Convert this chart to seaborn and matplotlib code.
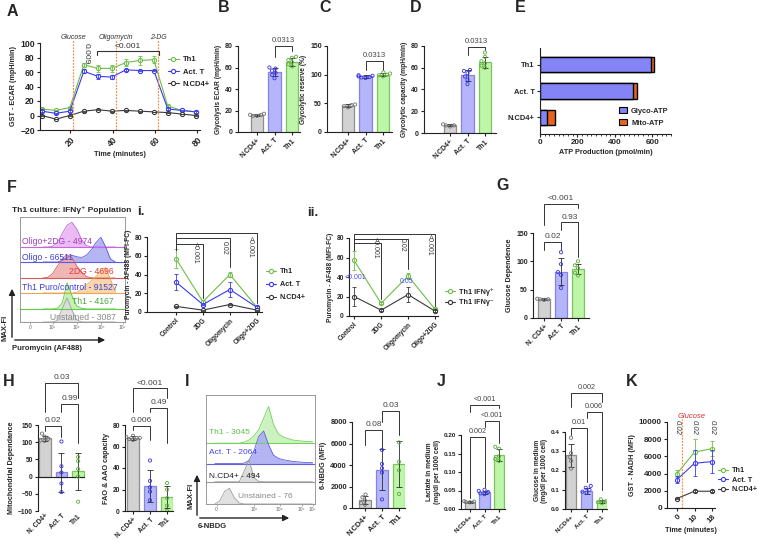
import numpy as np
import pandas as pd
import seaborn as sns
import matplotlib.pyplot as plt
from matplotlib.lines import Line2D
from matplotlib.patches import Patch
from matplotlib.ticker import MultipleLocator, FormatStrFormatter

W, H = 762, 545

# groups and colours shared by the bar panels
groups = ['N.CD4+', 'Act. T', 'Th1']
groups_sp = ['N. CD4+', 'Act. T', 'Th1']
bar_fill = ['#d2d2d2', '#b5b5fc', '#bdf6a8']
bar_edge = ['#8e8e8e', '#8585e0', '#7cc460']
pt_color = ['#707070', '#3434e6', '#5cab3a']
c_th1, c_act, c_cd4 = '#6dbf45', '#3b3bf2', '#3a3a3a'

# A: GST - ECAR trace
a_time = [6.6, 13.2, 19.8, 26.4, 33.0, 39.6, 46.2, 52.8, 59.4, 66.0, 72.6, 79.2]
a_th1 = [9, 7, 11, 70, 65, 65, 73, 76, 77, 13, 7, 5]
a_th1_sd = [1, 1, 1, 3, 5, 5, 5, 6, 5, 2, 1, 1]
a_act = [6, 3, 6, 61, 54, 53, 63, 62, 62, 9, 7, 5]
a_act_sd = [1, 1, 1, 3, 3, 3, 1, 1, 1, 1, 1, 1]
a_cd4 = [0, -5, 0, 6, 8, 6, 7, 6, 5, 4, 2, 0]
a_cd4_sd = [0.5] * 12
a_inject = [21.5, 41.5, 61.5]
a_inject_lbl = ['Glucose', 'Oligomycin', '2-DG']

# B, C, D: glycolysis parameters
b_mean, b_sd = [16, 56, 65], [1, 4, 4]
b_pts = [[15, 16, 17, 16, 15], [50, 53, 55, 57, 59, 60], [61, 63, 65, 67, 69, 70]]
c_mean, c_sd = [46, 97, 100], [3, 2, 3]
c_pts = [[43, 45, 47, 48], [94, 96, 97, 98, 99, 95], [97, 99, 100, 102, 104]]
d_mean, d_sd = [7, 53, 65], [1, 5, 5]
d_pts = [[6, 7, 8, 7], [45, 49, 52, 55, 57, 58], [60, 62, 64, 66, 70, 74]]

# E: ATP production
e_groups = ['Th1', 'Act. T', 'N.CD4+']
e_glyco = [595, 495, 40]
e_mito = [15, 25, 42]

# F: puromycin histograms (x in log decades, heights in lane units)
f_grid = [2.6, 2.8, 3.0, 3.2, 3.4, 3.6, 3.8, 4.0, 4.2, 4.4, 4.6, 4.8, 5.0, 5.2, 5.4, 5.6]
f_names = ['Oligo+2DG - 4974', 'Oligo - 66511', '2DG - 4696',
           'Th1 Puro/control - 91527', 'Th1 - 4167', 'Unstained - 3087']
f_curves = [
    [0, 0, 0.05, 0.3, 0.9, 1.45, 1.65, 1.2, 0.5, 0.1, 0, 0, 0, 0, 0, 0],
    [0, 0, 0, 0, 0.1, 0.3, 0.45, 0.35, 0.3, 0.45, 0.8, 1.3, 1.65, 1.0, 0.2, 0],
    [0, 0.05, 0.3, 0.8, 1.3, 1.55, 1.35, 0.8, 0.4, 0.1, 0.02, 0, 0, 0, 0, 0],
    [0, 0, 0, 0, 0, 0, 0, 0.05, 0.25, 0.55, 0.8, 1.1, 1.5, 1.7, 0.9, 0.1],
    [0, 0, 0, 0.05, 0.4, 1.75, 0.9, 0.2, 0.05, 0, 0, 0, 0, 0, 0, 0],
    [0, 0, 0, 0.1, 0.9, 1.6, 0.8, 0.15, 0, 0, 0, 0, 0, 0, 0, 0],
]
f_ticks = ['0', '10³', '10⁴', '10⁵', '10⁶']

# i / ii: puromycin MFI under inhibitors
inh_cats = ['Control', '2DG', 'Oligomycin', 'Oligo+2DG']
i_th1, i_th1_sd = [57, 11, 40, 5], [10, 1.5, 3, 1]
i_act, i_act_sd = [32, 8, 24, 5], [9, 1, 8, 1]
i_cd4, i_cd4_sd = [6, 2, 8, 2], [0.5, 0.5, 0.5, 0.5]
ii_pos, ii_pos_sd = [57, 13, 41, 7], [10, 1, 3, 1]
ii_neg, ii_neg_sd = [20, 6, 22, 5], [10, 1, 8, 1]

# G: glucose dependence
g_mean, g_sd = [33, 82, 86], [1.5, 24, 9]
g_pts = [[32, 33, 34, 33], [116, 95, 81, 76, 53], [100, 93, 88, 80, 75]]

# H: mitochondrial dependence, FAO & AAO capacity
h1_mean, h1_sd = [111, 12, 15], [8, 57, 54]
h1_pts = [[125, 116, 110, 105, 104], [102, 30, 12, -20, -45], [57, 45, 22, 0, -73]]
h2_mean, h2_sd = [68, 23, 13], [1.5, 15, 10]
h2_pts = [[66, 67, 68, 68, 69, 70], [47, 28, 22, 18, 10], [26, 20, 12, 5, 0]]

# I: 6-NBDG uptake
n_grid = [1.4, 1.6, 1.8, 2.0, 2.2, 2.4, 2.6, 2.8, 3.0, 3.2, 3.4, 3.6, 3.8,
          4.0, 4.2, 4.4, 4.6, 4.8, 5.0, 5.2, 5.4]
n_names = ['Th1 - 3045', 'Act. T - 2064', 'N.CD4+ - 494', 'Unstained - 76']
n_curves = [
    [0, 0, 0, 0, 0, 0, 0.05, 0.15, 0.35, 0.65, 1.2, 1.75, 0.9, 0.45, 0.3, 0.22, 0.15, 0.12, 0.1, 0.08, 0.07],
    [0, 0, 0, 0, 0, 0, 0.02, 0.15, 0.6, 1.3, 1.55, 0.9, 0.4, 0.25, 0.18, 0.14, 0.1, 0.08, 0.06, 0.05, 0.04],
    [0, 0, 0, 0, 0, 0, 0.5, 1.05, 0.2, 0.02, 0, 0, 0, 0, 0, 0, 0, 0, 0, 0, 0],
    [0, 0.15, 0.6, 0.75, 0.3, 0.05, 0, 0, 0, 0, 0, 0, 0, 0, 0, 0, 0, 0, 0, 0, 0],
]
nb_mean, nb_sd = [750, 3550, 4100], [350, 1900, 2100]
nb_pts = [[1250, 1000, 700, 450, 300], [5400, 4100, 3700, 3300, 800], [6100, 4300, 3500, 1300]]

# J: lactate / glucose in medium
lac_mean, lac_sd = [0.019, 0.045, 0.145], [0.002, 0.005, 0.016]
lac_pts = [[0.018, 0.019, 0.02, 0.021], [0.052, 0.049, 0.046, 0.042, 0.04], [0.168, 0.163, 0.142, 0.135, 0.13]]
glc_mean, glc_sd = [0.28, 0.095, 0.04], [0.06, 0.015, 0.008]
glc_pts = [[0.37, 0.29, 0.27, 0.25, 0.21], [0.12, 0.11, 0.1, 0.09, 0.085], [0.05, 0.04, 0.035, 0.03]]

# K: NADH trace
k_cats = ['0', '10', '18']
k_th1, k_th1_sd = [4000, 6500, 6900], [400, 1500, 900]
k_act, k_act_sd = [3300, 5200, 5400], [400, 1500, 1350]
k_cd4, k_cd4_sd = [1100, 1950, 1950], [100, 100, 100]

sns.set_theme(style='ticks')
plt.rcParams['font.family'] = ['Liberation Sans', 'DejaVu Sans']
plt.rcParams['font.weight'] = 'bold'
plt.rcParams['axes.labelweight'] = 'bold'
plt.rcParams['axes.labelsize'] = 5
plt.rcParams['axes.labelpad'] = 2

fig = plt.figure(figsize=(W / 100, H / 100), dpi=100)
ov = fig.add_axes([0, 0, 1, 1])
ov.set_xlim(0, W)
ov.set_ylim(H, 0)
ov.axis('off')
ov.set_zorder(10)


def px_axes(l, t, r, b):
    return fig.add_axes([l / W, 1 - b / H, (r - l) / W, (b - t) / H])


def prism(ax, fs):
    sns.despine(ax=ax)
    ax.tick_params(axis='both', labelsize=fs, width=0.8, length=2.5, pad=1.2, color='#222222')
    for s in ax.spines.values():
        s.set_linewidth(0.8)
        s.set_color('#222222')
    ax.set_xlabel('')
    ax.set_ylabel('')


def cat_xticks(ax, labels, fs):
    ax.set_xticks(range(len(labels)))
    ax.set_xticklabels(labels, rotation=45, ha='right', rotation_mode='anchor',
                       fontsize=fs, fontweight='bold')


def bar_panel(ax, means, sds, pts, labels, fs):
    df = pd.DataFrame({'grp': labels, 'val': means})
    sns.barplot(data=df, x='grp', y='val', hue='grp', order=labels, hue_order=labels,
                palette=bar_fill, saturation=1, width=0.7, errorbar=None,
                linewidth=0.9, legend=False, ax=ax, zorder=2)
    for p, ec in zip(ax.patches, bar_edge):
        p.set_edgecolor(ec)
    ax.errorbar(range(3), means, yerr=sds, fmt='none', ecolor='#2a2a2a',
                elinewidth=0.6, capsize=2, capthick=0.6, zorder=4)
    long = pd.DataFrame([(g, v) for g, vs in zip(labels, pts) for v in vs], columns=['grp', 'val'])
    n0 = len(ax.collections)
    sns.swarmplot(data=long, x='grp', y='val', hue='grp', order=labels, hue_order=labels,
                  palette=pt_color, size=2.3, legend=False, ax=ax, zorder=5)
    for c in ax.collections[n0:]:
        c.set_edgecolors(c.get_facecolors())
        c.set_facecolors('none')
        c.set_linewidths(0.6)
    prism(ax, fs)
    cat_xticks(ax, labels, fs)


def bracket(ax, x1, x2, y, d1, d2, txt, fs=5.5):
    ax.plot([x1, x1, x2, x2], [d1, y, y, d2], color='#333333', lw=0.7, clip_on=False)
    ax.annotate(txt, ((x1 + x2) / 2, y), xytext=(0, 1.2), textcoords='offset points',
                ha='center', va='bottom', fontsize=fs, fontweight='normal',
                color='#444444', annotation_clip=False)


def line_series(ax, x, y, sd, color):
    sns.lineplot(x=x, y=y, ax=ax, color=color, lw=0.8, marker='o', ms=3,
                 mfc='white', mec=color, mew=0.8, legend=False)
    ax.errorbar(x, y, yerr=sd, fmt='none', ecolor=color, elinewidth=0.6,
                capsize=1.5, capthick=0.6)


def line_legend(ax, labels, colors, x, y, fs, spacing):
    hs = [Line2D([], [], color=c, lw=0.8, marker='o', ms=3, mfc='white', mec=c, mew=0.8)
          for c in colors]
    ax.legend(hs, labels, loc='upper left', bbox_to_anchor=(x / W, 1 - y / H),
              bbox_transform=fig.transFigure, frameon=False, fontsize=fs,
              handlelength=1.4, handletextpad=0.5, labelspacing=spacing, borderpad=0,
              borderaxespad=0)


def hist_panel(ax, grid, curves, bases, fills, edges, xlim, ylim, ticks, tlabels):
    for ys, b, fc, ec in zip(curves, bases, fills, edges):
        top = np.array(ys) + b
        ax.axhline(b, color=ec, lw=0.8)
        ax.fill_between(grid, b, top, color=fc, alpha=0.85, lw=0)
        sns.lineplot(x=grid, y=top, ax=ax, color=ec, lw=0.6)
    ax.set_xlim(*xlim)
    ax.set_ylim(*ylim)
    ax.set_yticks([])
    ax.set_xticks(ticks)
    ax.set_xticklabels(tlabels, fontsize=3.5, fontweight='normal', color='#666666')
    ax.tick_params(axis='x', length=1.5, width=0.5, pad=1, color='#888888')
    for s in ax.spines.values():
        s.set_color('#999999')
        s.set_linewidth(0.7)
    ax.set_facecolor('none')


# ---------------- A
axA = px_axes(40, 43, 200, 130)
for y, sd, c in [(a_th1, a_th1_sd, c_th1), (a_act, a_act_sd, c_act), (a_cd4, a_cd4_sd, c_cd4)]:
    line_series(axA, a_time, y, sd, c)
for t, lbl in zip(a_inject, a_inject_lbl):
    axA.plot([t, t], [-20, 104], color='#f09050', ls=(0, (1.5, 1)), lw=0.9, clip_on=False)
    axA.text(t, 108, lbl, ha='center', va='center', fontsize=5, style='italic',
             fontweight='normal', color='#333333')
axA.plot([32.5, 32.5, 61.8, 61.8], [84, 89.5, 89.5, 84], color='#333333', lw=0.8, clip_on=False)
axA.text(47.2, 91, '<0.001', ha='center', va='bottom', fontsize=6, fontweight='normal', color='#333333')
axA.text(27.4, 86, '0.009', ha='center', va='center', rotation=270, fontsize=6,
         fontweight='normal', color='#333333')
axA.set_xlim(5.7, 81.2)
axA.set_ylim(-20, 100)
axA.set_yticks(range(-20, 101, 20))
prism(axA, 6.2)
axA.set_xticks([20, 40, 60, 80])
axA.set_xticklabels(['20', '40', '60', '80'], rotation=45, ha='right', rotation_mode='anchor')
axA.set_xlabel('Time (minutes)', fontsize=5.2)
axA.set_ylabel('GST - ECAR (mpH/min)', fontsize=5.2)
line_legend(axA, ['Th1', 'Act. T', 'N.CD4+'], [c_th1, c_act, c_cd4], 168, 56, 5.5, 0.65)

# ---------------- B, C, D
axB = px_axes(238, 46, 300, 132)
bar_panel(axB, b_mean, b_sd, b_pts, groups, 5.0)
axB.set_xlim(-1.09, 2.46)
axB.set_ylim(0, 80)
axB.set_yticks(range(0, 81, 20))
axB.set_ylabel('Glycolysis ECAR (mpH/min)', fontsize=4.8)
bracket(axB, 1, 2, 80, 70, 75, '0.0313')

axC = px_axes(327, 46, 392, 132)
bar_panel(axC, c_mean, c_sd, c_pts, groups, 5.0)
axC.set_xlim(-1.2, 2.51)
axC.set_ylim(0, 150)
axC.set_yticks([0, 50, 100, 150])
axC.set_ylabel('Glycolytic reserve (%)', fontsize=4.8)
bracket(axC, 1, 2, 124, 108, 108, '0.0313')

axD = px_axes(424, 46, 496, 133)
bar_panel(axD, d_mean, d_sd, d_pts, groups, 5.0)
axD.set_xlim(-1.49, 2.63)
axD.set_ylim(0, 80)
axD.set_yticks(range(0, 81, 20))
axD.set_ylabel('Glycolytic capacity (mpH/min)', fontsize=4.8)
bracket(axD, 1, 2, 79, 72, 76, '0.0313')

# ---------------- E
axE = px_axes(540, 48, 671, 134)
e_total = [g + m for g, m in zip(e_glyco, e_mito)]
sns.barplot(x=e_total, y=e_groups, orient='h', color='#e8641e', saturation=1, width=0.58,
            edgecolor='black', linewidth=1.0, errorbar=None, ax=axE)
sns.barplot(x=e_glyco, y=e_groups, orient='h', color='#8484f6', saturation=1, width=0.58,
            edgecolor='black', linewidth=1.0, errorbar=None, ax=axE)
prism(axE, 5.8)
axE.set_xlim(0, 700)
axE.set_ylim(2.65, -0.65)
axE.set_xticks([0, 200, 400, 600])
axE.xaxis.set_minor_locator(MultipleLocator(25))
axE.tick_params(axis='x', which='minor', length=1.5, width=0.6)
axE.tick_params(axis='y', labelsize=5.4)
axE.set_xlabel('ATP Production (pmol/min)', fontsize=5.2)
axE.legend([Patch(facecolor='#8484f6', edgecolor='black', lw=0.8),
            Patch(facecolor='#e8641e', edgecolor='black', lw=0.8)],
           ['Glyco-ATP', 'Mito-ATP'], loc='upper left', bbox_to_anchor=(619 / W, 1 - 107 / H),
           bbox_transform=fig.transFigure, frameon=False, fontsize=5.4, handlelength=1.1,
           handleheight=0.9, handletextpad=0.5, labelspacing=0.55, borderpad=0, borderaxespad=0)

# ---------------- F
axF = px_axes(20, 217, 125, 322)
hist_panel(axF, f_grid, f_curves, [5.0, 4.0, 2.93, 1.93, 0.87, 0.0],
           ['#eab0f2', '#a8a8f2', '#eeaaaa', '#f7cf9c', '#b8f2a8', '#dcdcdc'],
           ['#c468e0', '#5a5ae6', '#d85a5a', '#e8a850', '#62cc48', '#a0a0a0'],
           (1.65, 6.0), (0, 7), [2.06, 3, 4, 5, 5.9], f_ticks)
f_txt_col = ['#9b3fbe', '#3f3fd6', '#e23a3a', '#3f3fd6', '#46a83a', '#8a8a8a']
f_txt_pos = [(22, 241), (22, 257), (69, 272), (22, 287), (72, 302), (50, 318)]
for name, col, (x, y) in zip(f_names, f_txt_col, f_txt_pos):
    ov.text(x, y, name, fontsize=6.2, fontweight='normal', color=col, ha='left', va='center')
ov.text(12, 210, 'Th1 culture: IFNγ⁺ Population', fontsize=6, ha='left', va='center')
ov.annotate('', xy=(12, 286), xytext=(12, 340),
            arrowprops=dict(arrowstyle='-|>', color='#222222', lw=1.0, mutation_scale=9))
ov.annotate('', xy=(108, 340), xytext=(12, 340),
            arrowprops=dict(arrowstyle='-|>', color='#222222', lw=1.0, mutation_scale=9))
ov.text(5, 328, 'MAX-FI', rotation=90, fontsize=5.5, ha='center', va='center')
ov.text(12, 348, 'Puromycin (AF488)', fontsize=5.5, ha='left', va='center')

# ---------------- i
axi = px_axes(147, 237, 262, 312)
for y, sd, c in [(i_th1, i_th1_sd, c_th1), (i_act, i_act_sd, c_act), (i_cd4, i_cd4_sd, c_cd4)]:
    line_series(axi, [0, 1, 2, 3], y, sd, c)
prism(axi, 4.8)
axi.set_xlim(-1.07, 3.19)
axi.set_ylim(0, 80)
axi.set_yticks(range(0, 81, 20))
cat_xticks(axi, inh_cats, 4.8)
axi.set_ylabel('Puromycin - AF488 (MFI-FC)', fontsize=4.8)
for xk, yk, dk, txt, tx, ty in [(3, 84, 10, '<0.001', 2.74, 69), (2, 79, 48, '0.02', 1.78, 68),
                                 (1, 73, 15, '<0.001', 0.7, 63)]:
    axi.plot([0, 0, xk, xk], [66, yk, yk, dk], color='#333333', lw=0.7, clip_on=False)
    axi.text(tx, ty, txt, rotation=270, ha='center', va='center', fontsize=5,
             fontweight='normal', color='#333333')
line_legend(axi, ['Th1', 'Act. T', 'N.CD4+'], [c_th1, c_act, c_cd4], 266, 268, 5.2, 0.85)

# ---------------- ii
axii = px_axes(349, 238, 438, 316)
for y, sd, c in [(ii_pos, ii_pos_sd, c_th1), (ii_neg, ii_neg_sd, c_cd4)]:
    line_series(axii, [0, 1, 2, 3], y, sd, c)
prism(axii, 4.8)
axii.set_xlim(-0.19, 3.11)
axii.set_ylim(0, 80)
axii.set_yticks(range(0, 81, 20))
cat_xticks(axii, inh_cats, 4.8)
axii.set_ylabel('Puromycin - AF488 (MFI-FC)', fontsize=4.8)
for xk, yk, dk, txt, tx, ty in [(3, 84, 10, '<0.001', 2.78, 73), (2, 79, 48, '0.02', 1.78, 73),
                                 (1, 75, 17, '<0.001', 0.78, 70)]:
    axii.plot([0, 0, xk, xk], [68, yk, yk, dk], color='#333333', lw=0.7, clip_on=False)
    axii.text(tx, ty, txt, rotation=270, ha='center', va='center', fontsize=5,
              fontweight='normal', color='#333333')
axii.text(0.05, 39, '<0.001', ha='center', va='center', fontsize=5, fontweight='normal', color='#5050f0')
axii.text(1.96, 35, '0.05', ha='center', va='center', fontsize=5, fontweight='normal', color='#5050f0')
line_legend(axii, ['Th1 IFNγ⁺', 'Th1 IFNγ⁻'], [c_th1, c_cd4], 445, 288, 5.2, 0.45)

# ---------------- G
axG = px_axes(533, 233, 589, 318)
bar_panel(axG, g_mean, g_sd, g_pts, groups_sp, 5.0)
axG.set_xlim(-0.65, 2.65)
axG.set_ylim(0, 150)
axG.set_yticks([0, 50, 100, 150])
axG.set_ylabel('Glucose Dependence', fontsize=5.2)
bracket(axG, 0, 1, 134, 120, 120, '0.02', 6)
bracket(axG, 1, 2, 169, 155, 108, '0.93', 6)
bracket(axG, 0, 2, 201, 164, 194, '<0.001', 6)

# ---------------- H
axH1 = px_axes(38, 425, 85, 511)
bar_panel(axH1, h1_mean, h1_sd, h1_pts, groups_sp, 4.8)
axH1.set_xlim(-0.4, 2.41)
axH1.set_ylim(-100, 150)
axH1.set_yticks(range(-100, 151, 50))
axH1.spines['bottom'].set_visible(False)
axH1.axhline(0, color='#222222', lw=0.8)
axH1.tick_params(axis='x', length=0)
axH1.set_ylabel('Mitochondrial Dependance', fontsize=5.2)
bracket(axH1, 0, 1, 147, 133, 115, '0.02', 6)
bracket(axH1, 1, 2, 211, 188, 98, '0.99', 6)
bracket(axH1, 0, 2, 273, 188, 229, '0.03', 6)

axH2 = px_axes(125, 425, 173, 511)
bar_panel(axH2, h2_mean, h2_sd, h2_pts, groups_sp, 4.8)
axH2.set_xlim(-0.47, 2.35)
axH2.set_ylim(0, 80)
axH2.set_yticks(range(0, 81, 20))
axH2.set_ylabel('FAO & AAO capacity', fontsize=5.2)
bracket(axH2, 0, 1, 79, 75, 66, '0.006', 6)
bracket(axH2, 1, 2, 96, 92, 63, '0.49', 6)
bracket(axH2, 0, 2, 114, 92, 105, '<0.001', 6)

# ---------------- I
axIh = px_axes(206, 395, 315, 504)
hist_panel(axIh, n_grid, n_curves, [2.9, 1.93, 1.06, 0.0],
           ['#c4f2b4', '#a8a8f2', '#d8d8d8', '#dcdcdc'],
           ['#78d060', '#6060e0', '#9a9a9a', '#a0a0a0'],
           (1.04, 5.5), (0, 5.2), [1.47, 3, 4.05, 4.95, 5.4], ['0', '10³', '10⁴', '10⁵', '10⁶'])
n_txt_col = ['#5cc048', '#4848e0', '#222222', '#8a8a8a']
n_txt_pos = [(209, 433), (209, 453), (209, 477), (238, 497)]
for name, col, (x, y) in zip(n_names, n_txt_col, n_txt_pos):
    ov.text(x, y, name, fontsize=6, fontweight='normal', color=col, ha='left', va='center')
ov.annotate('', xy=(197, 472), xytext=(197, 518),
            arrowprops=dict(arrowstyle='-|>', color='#222222', lw=1.0, mutation_scale=9))
ov.annotate('', xy=(292, 518), xytext=(197, 518),
            arrowprops=dict(arrowstyle='-|>', color='#222222', lw=1.0, mutation_scale=9))
ov.text(191, 496, 'MAX-FI', rotation=90, fontsize=5.5, ha='center', va='center')
ov.text(198, 527, '6-NBDG', fontsize=5.5, ha='left', va='center')

axIb = px_axes(352, 422, 405, 508)
bar_panel(axIb, nb_mean, nb_sd, nb_pts, groups, 5.4)
axIb.set_xlim(-0.76, 2.35)
axIb.set_ylim(0, 8000)
axIb.set_yticks(range(0, 8001, 2000))
axIb.set_ylabel('6-NBDG (MFI)', fontsize=5.2)
bracket(axIb, 0, 1, 7256, 5860, 5580, '0.08', 6)
bracket(axIb, 1, 2, 9023, 8000, 6790, '0.03', 6)

# ---------------- J
axJ1 = px_axes(461, 435, 505, 509)
bar_panel(axJ1, lac_mean, lac_sd, lac_pts, groups, 4.6)
axJ1.set_xlim(-0.62, 2.41)
axJ1.set_ylim(0, 0.2)
axJ1.set_yticks([0, 0.05, 0.10, 0.15, 0.20])
axJ1.yaxis.set_major_formatter(FormatStrFormatter('%.2f'))
axJ1.set_ylabel('Lactate in medium\n(mg/dl per 1000 cell)', fontsize=4.8, linespacing=1.1)
bracket(axJ1, 0, 1, 0.195, 0.03, 0.06, '0.002', 5.2)
bracket(axJ1, 1, 2, 0.238, 0.222, 0.178, '<0.001', 5.2)
bracket(axJ1, 0, 2, 0.281, 0.262, 0.273, '<0.001', 5.2)

axJ2 = px_axes(565, 432, 607, 509)
bar_panel(axJ2, glc_mean, glc_sd, glc_pts, groups, 4.6)
axJ2.set_xlim(-0.39, 2.32)
axJ2.set_ylim(0, 0.4)
axJ2.set_yticks([0, 0.1, 0.2, 0.3, 0.4])
axJ2.yaxis.set_major_formatter(FormatStrFormatter('%.1f'))
axJ2.set_ylabel('Glucose in medium\n(mg/dl per 1000 cell)', fontsize=4.8, linespacing=1.1)
bracket(axJ2, 0, 1, 0.42, 0.385, 0.14, '0.01', 5.2)
bracket(axJ2, 1, 2, 0.504, 0.473, 0.1, '0.006', 5.2)
bracket(axJ2, 0, 2, 0.603, 0.53, 0.556, '0.002', 5.2)

# ---------------- K
axK = px_axes(667, 422, 715, 508)
for y, sd, c in [(k_th1, k_th1_sd, c_th1), (k_act, k_act_sd, c_act), (k_cd4, k_cd4_sd, c_cd4)]:
    line_series(axK, [0, 1, 2], y, sd, c)
axK.plot([0.29, 0.29], [0, 10300], color='#f09050', ls=(0, (1.5, 1)), lw=0.9, clip_on=False)
axK.text(0.86, 10600, 'Glucose', ha='center', va='center', fontsize=5.5, style='italic',
         fontweight='normal', color='#e03030')
for xk in [0, 1, 2]:
    axK.text(xk, 9400, '0.02', rotation=270, ha='center', va='center', fontsize=5.5,
             style='italic', fontweight='normal', color='#333333')
prism(axK, 5.8)
axK.set_xlim(-0.57, 2.17)
axK.set_ylim(0, 10000)
axK.set_yticks(range(0, 10001, 2000))
cat_xticks(axK, k_cats, 5.8)
axK.set_xlabel('Time (minutes)', fontsize=5.2)
axK.set_ylabel('GST - NADH (MFI)', fontsize=5.2)
line_legend(axK, ['Th1', 'Act. T', 'N.CD4+'], [c_th1, c_act, c_cd4], 718, 467, 5.2, 0.35)

# ---------------- panel letters
for s, x, y in [('A', 12, 12), ('B', 224, 8), ('C', 325, 8), ('D', 416, 8), ('E', 520, 8),
                ('F', 12, 187), ('G', 503, 185), ('H', 9, 381), ('I', 187, 381),
                ('J', 441, 381), ('K', 632, 381)]:
    ov.text(x, y, s, fontsize=11.5, fontweight='bold', ha='center', va='center')
ov.text(141, 212, 'i.', fontsize=9.5, fontweight='bold', ha='center', va='center')
ov.text(313, 213, 'ii.', fontsize=9.5, fontweight='bold', ha='center', va='center')

fig.savefig('out.png', dpi=100)
